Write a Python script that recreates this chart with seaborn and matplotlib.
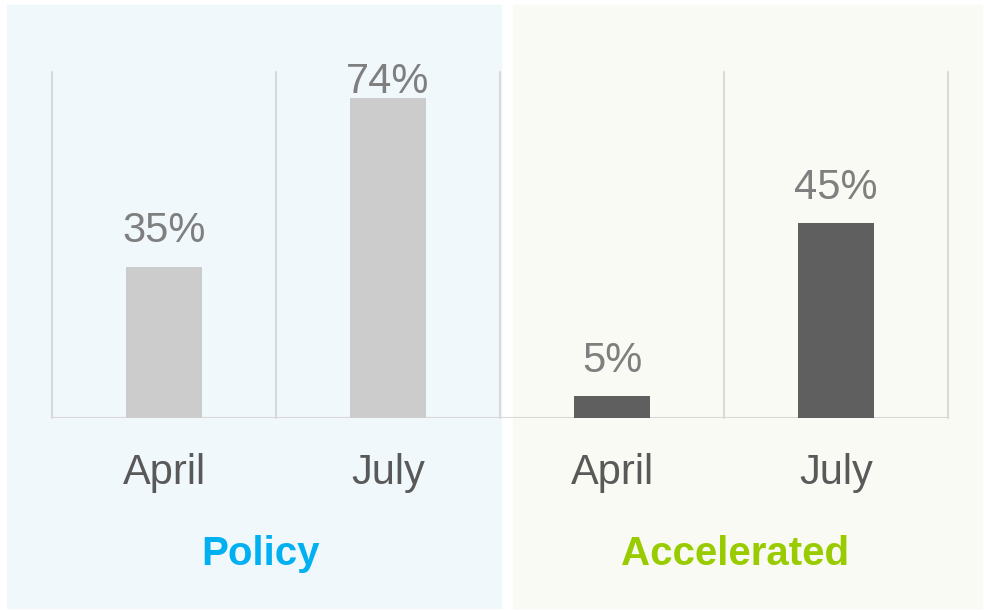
import pandas as pd
import numpy as np
import seaborn as sns
import matplotlib.pyplot as plt
from matplotlib.patches import Rectangle

# Chart data
months = ['April', 'July', 'April', 'July']
groups = ['Policy', 'Policy', 'Accelerated', 'Accelerated']
values = [35, 74, 5, 45]
group_names = ['Policy', 'Accelerated']
group_colors = ['#00B0F0', '#99CC00']
bar_colors = {'Policy': '#CCCCCC', 'Accelerated': '#5F5F5F'}

df = pd.DataFrame({'slot': range(len(values)), 'month': months,
                   'group': groups, 'value': values})

sns.set_style('white')
plt.rcParams['font.family'] = ['Liberation Sans', 'DejaVu Sans']

fig = plt.figure(figsize=(9.84, 6.10), dpi=100)

# Background panels behind each group
W, H = 984, 610
fig.patches.append(Rectangle((7 / W, 1 - 608 / H), 494 / W, 603 / H,
                             transform=fig.transFigure, color='#F1F8FC', zorder=-5))
fig.patches.append(Rectangle((513 / W, 1 - 608 / H), 469 / W, 603 / H,
                             transform=fig.transFigure, color='#F8FAF3', zorder=-5))

ax = fig.add_axes([52 / W, 192 / H, 896 / W, 346 / H])
ax.patch.set_alpha(0)

sns.barplot(data=df, x='slot', y='value', hue='group', palette=bar_colors,
            dodge=False, width=0.335, legend=False, ax=ax, saturation=1,
            linewidth=0)

ax.set_xlim(-0.5, 3.5)
ax.set_ylim(0, 80)

# Category separators and baseline
for xv in np.arange(-0.5, 4, 1):
    ax.plot([xv, xv], [0, 80], color='#D9D9D9', lw=1.5, zorder=0.5, clip_on=False)
ax.axhline(0, color='#D9D9D9', lw=1.5, zorder=0.5)

# Value labels (kept inside the top of the plot)
for i, v in enumerate(values):
    ax.text(i, min(v + 5.6, 75.1), f'{v}%', ha='center', va='baseline',
            fontsize=30, color='#7F7F7F')

ax.set_xticks(range(len(months)))
ax.set_xticklabels(months, fontsize=30, color='#595959')
ax.tick_params(axis='x', length=0, pad=25)
ax.set_yticks([])
ax.set_xlabel('')
ax.set_ylabel('')
for s in ax.spines.values():
    s.set_visible(False)

# Group labels
for xg, name, col in zip([0.43, 2.55], group_names, group_colors):
    ax.text(xg, -33.9, name, ha='center', va='baseline', fontsize=29,
            fontweight='bold', color=col, clip_on=False)

fig.savefig('out.png', dpi=100)
